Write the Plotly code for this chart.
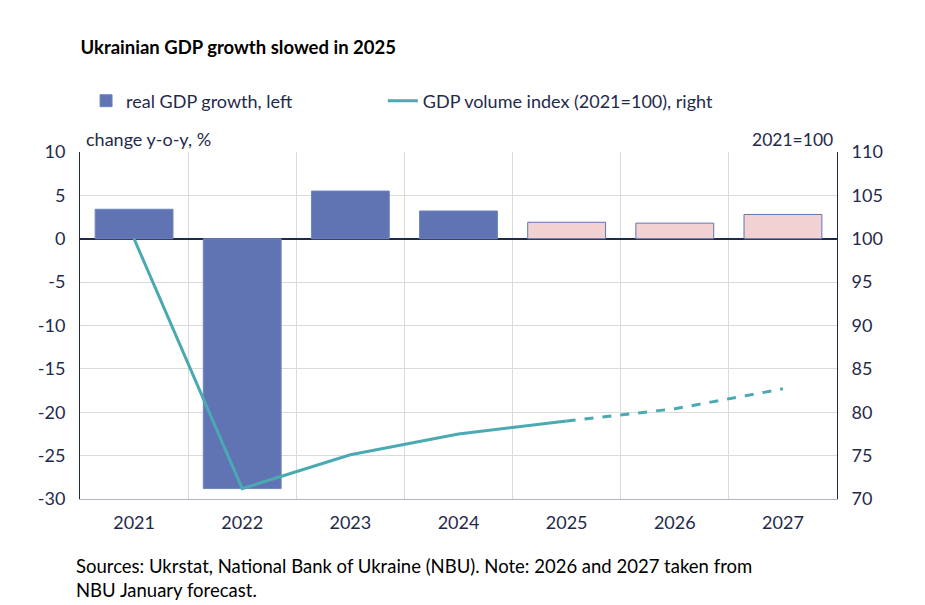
import plotly.graph_objects as go

years = ["2021", "2022", "2023", "2024", "2025", "2026", "2027"]
gdp_growth = [3.4, -28.8, 5.5, 3.2, 1.9, 1.8, 2.8]
is_forecast = [False, False, False, False, True, True, True]
volume_index = [100.0, 71.2, 75.1, 77.5, 79.0, 80.4, 82.7]
left_ticks = [10, 5, 0, -5, -10, -15, -20, -25, -30]
left_tick_labels = ["10", "5", "0", "-5", "-10", "-15", "-20", "-25", "-30"]
right_ticks = [110, 105, 100, 95, 90, 85, 80, 75, 70]

BAR = "#6074B4"
PINK = "#F2D1D3"
TEAL = "#4AA9B1"
TXT = "#1F2A4A"
GRID = "#D9D9E0"
FONT = "Lato, Liberation Sans, sans-serif"

fig = go.Figure()
fig.add_trace(go.Bar(
    x=years, y=gdp_growth, name="real GDP growth, left",
    marker=dict(color=[PINK if f else BAR for f in is_forecast],
                line=dict(color=[BAR if f else "#7084C0" for f in is_forecast], width=1)),
    yaxis="y", legend="legend",
))
solid_idx = sorted(set([i for i in range(len(years)) if not is_forecast[i]] + [4]))
dash_idx = [4, 5, 6]
fig.add_trace(go.Scatter(
    x=[years[i] for i in solid_idx], y=[volume_index[i] for i in solid_idx],
    name="GDP volume index (2021=100), right", mode="lines",
    line=dict(color=TEAL, width=3), yaxis="y2", legend="legend2",
))
fig.add_trace(go.Scatter(
    x=[years[i] for i in dash_idx], y=[volume_index[i] for i in dash_idx],
    mode="lines", line=dict(color=TEAL, width=3, dash="dash"),
    yaxis="y2", showlegend=False,
))

fig.update_layout(
    width=917, height=597,
    paper_bgcolor="white", plot_bgcolor="white",
    margin=dict(l=72, r=88, t=144, b=106),
    font=dict(family=FONT, size=18, color=TXT),
    bargap=0.28,
    showlegend=True,
    legend=dict(orientation="h", x=0.008, y=1.147, xanchor="left", yanchor="middle",
                font=dict(size=18, color=TXT), itemwidth=30,
                bgcolor="rgba(0,0,0,0)"),
    legend2=dict(orientation="h", x=0.400, y=1.147, xanchor="left", yanchor="middle",
                 font=dict(size=18, color=TXT), itemwidth=30,
                 bgcolor="rgba(0,0,0,0)"),
    title=dict(text="<b>Ukrainian GDP growth slowed in 2025</b>", x=0.079, xanchor="left",
               y=0.933, yanchor="middle", font=dict(size=18.5, color="black", family=FONT)),
    xaxis=dict(type="category", showgrid=True, gridcolor=GRID, gridwidth=1,
               tickson="boundaries", ticks="", showline=True, linecolor="#B0B3BF",
               mirror=False, tickfont=dict(size=18, color=TXT), ticklabelstandoff=7),
    yaxis=dict(range=[-30, 10], tickvals=left_ticks, ticktext=left_tick_labels,
               showgrid=True, gridcolor=GRID,
               zeroline=True, zerolinecolor=TXT, zerolinewidth=1.5,
               showline=True, linecolor=TXT, linewidth=1, ticks="",
               tickfont=dict(size=18, color=TXT), ticklabelstandoff=10),
    yaxis2=dict(range=[70, 110], tickvals=right_ticks, overlaying="y", side="right",
                showgrid=False, zeroline=False, showline=True, linecolor=TXT, linewidth=1,
                ticks="", tickfont=dict(size=18, color=TXT), ticklabelstandoff=10),
    annotations=[
        dict(text="change y-o-y, %", xref="paper", yref="paper", x=0.005, y=1.0,
             xanchor="left", yanchor="bottom", showarrow=False, font=dict(size=18, color=TXT)),
        dict(text="2021=100", xref="paper", yref="paper", x=0.997, y=1.0,
             xanchor="right", yanchor="bottom", showarrow=False, font=dict(size=17.5, color=TXT)),
        dict(text="Sources: Ukrstat, National Bank of Ukraine (NBU). Note: 2026 and 2027 taken from<br>NBU January forecast.",
             xref="paper", yref="paper", x=-0.008, y=-0.155, xanchor="left", yanchor="top",
             align="left", showarrow=False, font=dict(size=18.5, color="black")),
    ],
)

fig.write_html("out.html")
